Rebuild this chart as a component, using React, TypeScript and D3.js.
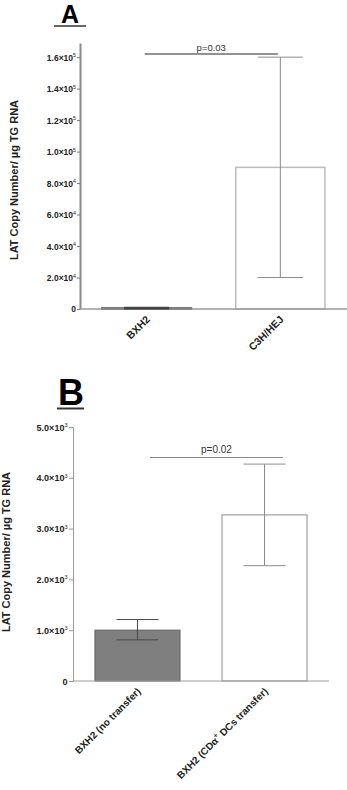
import React, { useEffect, useRef } from 'react'
import * as d3 from 'd3'

// Panel A: LAT copy number per group
const groupsA = ['BXH2', 'C3H/HEJ']
const meansA = [500, 90000]
const lowA = [300, 20000]
const highA = [800, 160000]
const ticksA = [0, 20000, 40000, 60000, 80000, 100000, 120000, 140000, 160000]
const pA = 'p=0.03'

// Panel B: effect of DC transfer
const groupsB = ['BXH2 (no transfer)', 'BXH2 (CDα⁺ DCs transfer)']
const meansB = [1000, 3270]
const lowB = [810, 2270]
const highB = [1210, 4270]
const ticksB = [0, 1000, 2000, 3000, 4000, 5000]
const pB = 'p=0.02'

const yTitle = 'LAT Copy Number/ µg TG RNA'
const FONT = "'Liberation Sans', Arial, sans-serif"

// writes "2.0×10⁴" style labels as mantissa + raised exponent
function sciLabel(sel: any, v: number, size: number) {
  sel.text(null)
  if (v === 0) {
    sel.append('tspan').text('0')
    return
  }
  const exp = Math.floor(Math.log10(v))
  const man = (v / Math.pow(10, exp)).toFixed(1)
  sel.append('tspan').text(`${man}×10`)
  sel.append('tspan').attr('dy', -size * 0.4).attr('font-size', size * 0.62).attr('font-weight', 'normal').text(String(exp))
}

// label text with a raised "+" where "⁺" appears
function supLabel(sel: any, label: string, size: number) {
  const parts = label.split('⁺')
  parts.forEach((p, i) => {
    if (i > 0) {
      sel.append('tspan').attr('dy', -size * 0.45).attr('font-size', size * 0.7).text('+')
      sel.append('tspan').attr('dy', size * 0.45).text(' ' + p.replace(/^ /, ''))
    } else {
      sel.append('tspan').text(p)
    }
  })
}

export default function App() {
  const svgRef = useRef<SVGSVGElement | null>(null)

  useEffect(() => {
    if (!svgRef.current) return
    const svg = d3.select(svgRef.current)
    svg.selectAll('*').remove()

    // ---------- Panel A ----------
    const gA = svg.append('g')
    gA.append('text').attr('x', 70).attr('y', 23).attr('text-anchor', 'middle')
      .attr('font-family', FONT).attr('font-weight', 'bold').attr('font-size', 25).text('A')
    gA.append('line').attr('x1', 54).attr('x2', 86).attr('y1', 26).attr('y2', 26)
      .attr('stroke', '#333').attr('stroke-width', 1.5)

    const xA = d3.scaleBand().domain(groupsA).range([80, 347]).paddingInner(0.333).paddingOuter(0.165)
    const yA = d3.scaleLinear().domain([0, 169000]).range([309, 43])

    const axA = gA.append('g').attr('transform', 'translate(80,0)')
      .call(d3.axisLeft(yA).tickValues(ticksA).tickSize(3).tickSizeOuter(0).tickPadding(1).tickFormat(() => ''))
    axA.select('.domain').attr('stroke', '#8a8a8a').attr('stroke-width', 2)
    axA.selectAll('.tick line').attr('stroke', '#777')
    axA.selectAll('.tick text').attr('font-family', FONT).attr('font-weight', 'bold')
      .attr('font-size', 8.5).attr('fill', '#222').attr('dy', '0.35em')
      .each(function (d: any) { sciLabel(d3.select(this), d, 8.5) })

    // bars
    gA.selectAll('rect.bar').data(groupsA).enter().append('rect')
      .attr('x', d => xA(d)!)
      .attr('y', (d, i) => yA(meansA[i]))
      .attr('width', xA.bandwidth())
      .attr('height', (d, i) => yA(0) - yA(meansA[i]))
      .attr('fill', 'white')
      .attr('stroke', (d, i) => i === 0 ? '#555' : '#bdbdbd')
      .attr('stroke-width', (d, i) => i === 0 ? 2 : 1.5)

    // x axis line
    gA.append('line').attr('x1', 80).attr('x2', 347).attr('y1', yA(0)).attr('y2', yA(0))
      .attr('stroke', '#999').attr('stroke-width', 1.5)

    // error bars
    groupsA.forEach((g, i) => {
      const cx = xA(g)! + xA.bandwidth() / 2
      const col = i === 0 ? '#444' : '#8c8c8c'
      const sw = i === 0 ? 2 : 1
      gA.append('line').attr('x1', cx).attr('x2', cx).attr('y1', yA(lowA[i])).attr('y2', yA(highA[i])).attr('stroke', col).attr('stroke-width', sw)
      ;[lowA[i], highA[i]].forEach(v => {
        gA.append('line').attr('x1', cx - 22.5).attr('x2', cx + 22.5).attr('y1', yA(v)).attr('y2', yA(v)).attr('stroke', col).attr('stroke-width', sw)
      })
      gA.append('text').attr('text-anchor', 'end')
        .attr('transform', `translate(${cx + 4},${yA(0) + 11}) rotate(-45)`)
        .attr('font-family', FONT).attr('font-weight', 'bold').attr('font-size', 10.5).attr('fill', '#222')
        .text(g)
    })

    // significance bar
    const a1 = xA(groupsA[0])! + xA.bandwidth() / 2 - 2
    const a2 = xA(groupsA[1])! + xA.bandwidth() / 2 - 2.5
    gA.append('line').attr('x1', a1).attr('x2', a2).attr('y1', yA(162000)).attr('y2', yA(162000))
      .attr('stroke', '#6e6e6e').attr('stroke-width', 1.5)
    gA.append('text').attr('x', (a1 + a2) / 2).attr('y', yA(162000) - 2.8).attr('text-anchor', 'middle')
      .attr('font-family', FONT).attr('font-size', 9.5).attr('fill', '#333').text(pA)

    gA.append('text').attr('transform', `translate(18,180) rotate(-90)`).attr('text-anchor', 'middle')
      .attr('font-family', FONT).attr('font-weight', 'bold').attr('font-size', 11).attr('fill', '#222').text(yTitle)

    // ---------- Panel B ----------
    const gB = svg.append('g')
    gB.append('text').attr('x', 71).attr('y', 405).attr('text-anchor', 'middle')
      .attr('font-family', FONT).attr('font-weight', 'bold').attr('font-size', 36).text('B')
    gB.append('line').attr('x1', 57).attr('x2', 84).attr('y1', 408.5).attr('y2', 408.5)
      .attr('stroke', '#333').attr('stroke-width', 2)

    const xB = d3.scaleBand().domain(groupsB).range([73, 329]).paddingInner(0.331).paddingOuter(0.173)
    const yB = d3.scaleLinear().domain([0, 5000]).range([681, 427])

    const axB = gB.append('g').attr('transform', 'translate(73,0)')
      .call(d3.axisLeft(yB).tickValues(ticksB).tickSize(4).tickSizeOuter(0).tickPadding(1.5).tickFormat(() => ''))
    axB.select('.domain').attr('stroke', '#9a9a9a').attr('stroke-width', 1)
    axB.selectAll('.tick line').attr('stroke', '#9a9a9a')
    axB.selectAll('.tick text').attr('font-family', FONT).attr('font-weight', 'bold')
      .attr('font-size', 9).attr('fill', '#222').attr('dy', '0.35em')
      .each(function (d: any) { sciLabel(d3.select(this), d, 9) })

    gB.selectAll('rect.bar').data(groupsB).enter().append('rect')
      .attr('x', d => xB(d)!)
      .attr('y', (d, i) => yB(meansB[i]))
      .attr('width', xB.bandwidth())
      .attr('height', (d, i) => yB(0) - yB(meansB[i]))
      .attr('fill', (d, i) => i === 0 ? '#7f7f7f' : 'white')
      .attr('stroke', (d, i) => i === 0 ? '#6a6a6a' : '#a0a0a0')
      .attr('stroke-width', 1.2)

    gB.append('line').attr('x1', 73).attr('x2', 329).attr('y1', yB(0)).attr('y2', yB(0))
      .attr('stroke', '#a0a0a0').attr('stroke-width', 1.2)

    groupsB.forEach((g, i) => {
      const cx = xB(g)! + xB.bandwidth() / 2
      const col = i === 0 ? '#4a4a4a' : '#8c8c8c'
      gB.append('line').attr('x1', cx).attr('x2', cx).attr('y1', yB(lowB[i])).attr('y2', yB(highB[i])).attr('stroke', col).attr('stroke-width', 1)
      ;[lowB[i], highB[i]].forEach(v => {
        gB.append('line').attr('x1', cx - 21).attr('x2', cx + 21).attr('y1', yB(v)).attr('y2', yB(v)).attr('stroke', col).attr('stroke-width', 1)
      })
      const t = gB.append('text').attr('text-anchor', 'end')
        .attr('transform', `translate(${cx + 4},${yB(0) + 11}) rotate(-45)`)
        .attr('font-family', FONT).attr('font-weight', 'bold').attr('font-size', 10).attr('fill', '#222')
      supLabel(t, g, 10)
    })

    const b1 = xB(groupsB[0])! + xB.bandwidth() / 2 + 12.5
    const b2 = xB(groupsB[1])! + xB.bandwidth() / 2 + 18.5
    gB.append('line').attr('x1', b1).attr('x2', b2).attr('y1', yB(4400)).attr('y2', yB(4400))
      .attr('stroke', '#8a8a8a').attr('stroke-width', 1.2)
    gB.append('text').attr('x', (b1 + b2) / 2).attr('y', yB(4400) - 4.5).attr('text-anchor', 'middle')
      .attr('font-family', FONT).attr('font-size', 10).attr('fill', '#333').text(pB)

    gB.append('text').attr('transform', `translate(9.5,552) rotate(-90)`).attr('text-anchor', 'middle')
      .attr('font-family', FONT).attr('font-weight', 'bold').attr('font-size', 11).attr('fill', '#222').text(yTitle)
  }, [])

  return (
    <svg ref={svgRef} width={347} height={790}
      style={{ position: 'absolute', left: 0, top: 0, background: 'white' }} />
  )
}
